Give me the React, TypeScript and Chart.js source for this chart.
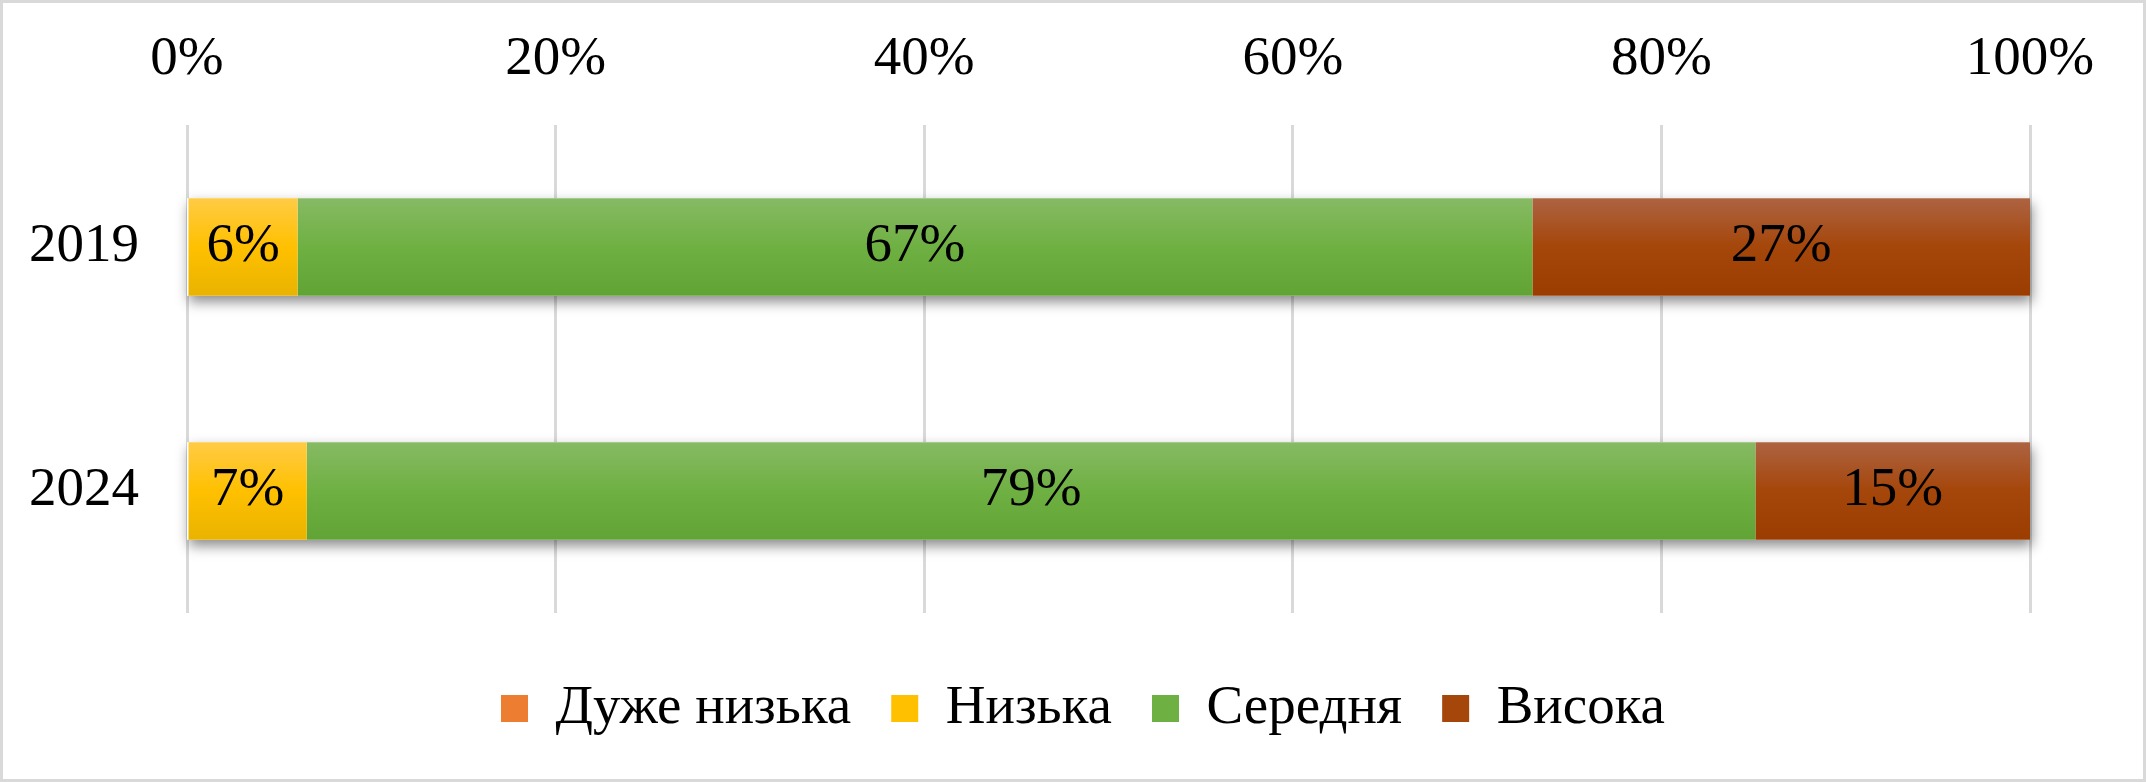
import React, { useEffect, useRef } from "react";
import { Chart, registerables } from "chart.js";

Chart.register(...registerables);

// ---- data ----
const categories = ["2019", "2024"];
const seriesNames = ["Дуже низька", "Низька", "Середня", "Висока"];
const veryLow = [0, 0];
const low = [6.0, 6.5];
const medium = [67.0, 78.6];
const high = [27.0, 14.9];
const xMin = 0;
const xMax = 100;
const xStep = 20;

// ---- styles ----
const palette = [
  { top: "#F4A06A", mid: "#ED7D31", bottom: "#E06C1C" },
  { top: "#FFCB45", mid: "#FFC000", bottom: "#E9B300" },
  { top: "#86BA64", mid: "#6FB042", bottom: "#62A335" },
  { top: "#AD6342", mid: "#A5460A", bottom: "#9B3C00" },
];
const FONT_FAMILY = "'Liberation Serif', 'Times New Roman', serif";
const FONT_SIZE = 55;
const BAR_PCT = 0.4;
const LEGEND_PAD = 40;

function gradientFor(idx: number) {
  return (context: any) => {
    const c = palette[idx];
    const chart = context.chart;
    const yScale = chart.scales && chart.scales.y;
    if (!chart.chartArea || !yScale || context.type !== "data") return c.mid;
    const center = yScale.getPixelForValue(context.dataIndex);
    const band = Math.abs(yScale.getPixelForValue(1) - yScale.getPixelForValue(0));
    const half = (band * BAR_PCT) / 2;
    if (!isFinite(center) || !isFinite(half) || half <= 0) return c.mid;
    const g = chart.ctx.createLinearGradient(0, center - half, 0, center + half);
    g.addColorStop(0, c.top);
    g.addColorStop(0.5, c.mid);
    g.addColorStop(1, c.bottom);
    return g;
  };
}

const decorPlugin = {
  id: "decor",
  afterLayout(chart: any) {
    const lg = chart.legend;
    if (lg) {
      lg.left = 10;
      lg.right = chart.width + 10;
      lg.top += 28;
      lg.bottom += 28;
    }
  },
  beforeDatasetsDraw(chart: any) {
    const ctx = chart.ctx;
    const n = chart.data.labels.length;
    ctx.save();
    ctx.shadowColor = "rgba(0,0,0,0.45)";
    ctx.shadowBlur = 12;
    ctx.shadowOffsetX = 2;
    ctx.shadowOffsetY = 6;
    ctx.fillStyle = "#ffffff";
    for (let i = 0; i < n; i++) {
      let l = Infinity, r = -Infinity, t = 0, b = 0;
      chart.data.datasets.forEach((_ds: any, d: number) => {
        const el = chart.getDatasetMeta(d).data[i];
        if (!el) return;
        const p = el.getProps(["x", "base", "y", "height"], true);
        l = Math.min(l, p.x, p.base);
        r = Math.max(r, p.x, p.base);
        t = p.y - p.height / 2;
        b = p.y + p.height / 2;
      });
      if (isFinite(l) && r > l) ctx.fillRect(l, t, r - l, b - t);
    }
    ctx.restore();
  },
  afterDatasetsDraw(chart: any) {
    const ctx = chart.ctx;
    ctx.save();
    ctx.font = `${FONT_SIZE}px ${FONT_FAMILY}`;
    ctx.fillStyle = "#000000";
    ctx.textAlign = "center";
    ctx.textBaseline = "middle";
    chart.data.datasets.forEach((ds: any, d: number) => {
      const meta = chart.getDatasetMeta(d);
      meta.data.forEach((el: any, i: number) => {
        const v = ds.data[i];
        if (!v) return;
        const p = el.getProps(["x", "base", "y"], true);
        ctx.fillText(Math.round(v) + "%", (p.x + p.base) / 2, p.y);
      });
    });
    ctx.restore();
  },
};

export default function App() {
  const ref = useRef<HTMLCanvasElement | null>(null);

  useEffect(() => {
    document.body.style.margin = "0";
    if (!ref.current) return;
    const font = { family: FONT_FAMILY, size: FONT_SIZE };
    const seriesData = [veryLow, low, medium, high];
    const chart = new Chart(ref.current, {
      type: "bar",
      data: {
        labels: categories,
        datasets: seriesNames.map((name, i) => ({
          label: name,
          data: seriesData[i],
          backgroundColor: gradientFor(i),
          borderWidth: 0,
          barPercentage: BAR_PCT,
          categoryPercentage: 1,
        })),
      },
      options: {
        indexAxis: "y",
        responsive: true,
        maintainAspectRatio: false,
        animation: false,
        layout: { padding: { left: 26, right: 113, top: 23, bottom: 61 } },
        scales: {
          x: {
            position: "top",
            stacked: true,
            min: xMin,
            max: xMax,
            ticks: {
              stepSize: xStep,
              callback: (v: any) => v + "%",
              font,
              color: "#000000",
              padding: 32,
              maxRotation: 0,
              autoSkip: false,
            },
            grid: { color: "#d9d9d9", lineWidth: 3, drawTicks: false },
            border: { display: false },
            afterFit: (s: any) => {
              s.height = 99;
            },
          },
          y: {
            stacked: true,
            ticks: { font, color: "#000000", padding: 48 },
            grid: { display: false, drawTicks: false },
            border: { display: false },
            afterFit: (s: any) => {
              s.width = 158;
            },
          },
        },
        plugins: {
          tooltip: { enabled: false },
          legend: {
            position: "bottom",
            labels: {
              font,
              color: "#000000",
              boxWidth: 27,
              boxHeight: 27,
              padding: LEGEND_PAD,
              generateLabels: (c: any) => {
                const items = (Chart.defaults.plugins.legend.labels as any).generateLabels(c);
                items.forEach((it: any, i: number) => {
                  it.fillStyle = palette[i].mid;
                  it.strokeStyle = palette[i].mid;
                  it.lineWidth = 0;
                });
                return items;
              },
            },
          },
        },
      } as any,
      plugins: [decorPlugin],
    });
    return () => chart.destroy();
  }, []);

  return (
    <div
      style={{
        width: 2146,
        height: 782,
        boxSizing: "border-box",
        border: "3px solid #d9d9d9",
        background: "#ffffff",
        position: "relative",
      }}
    >
      <canvas ref={ref} />
    </div>
  );
}
